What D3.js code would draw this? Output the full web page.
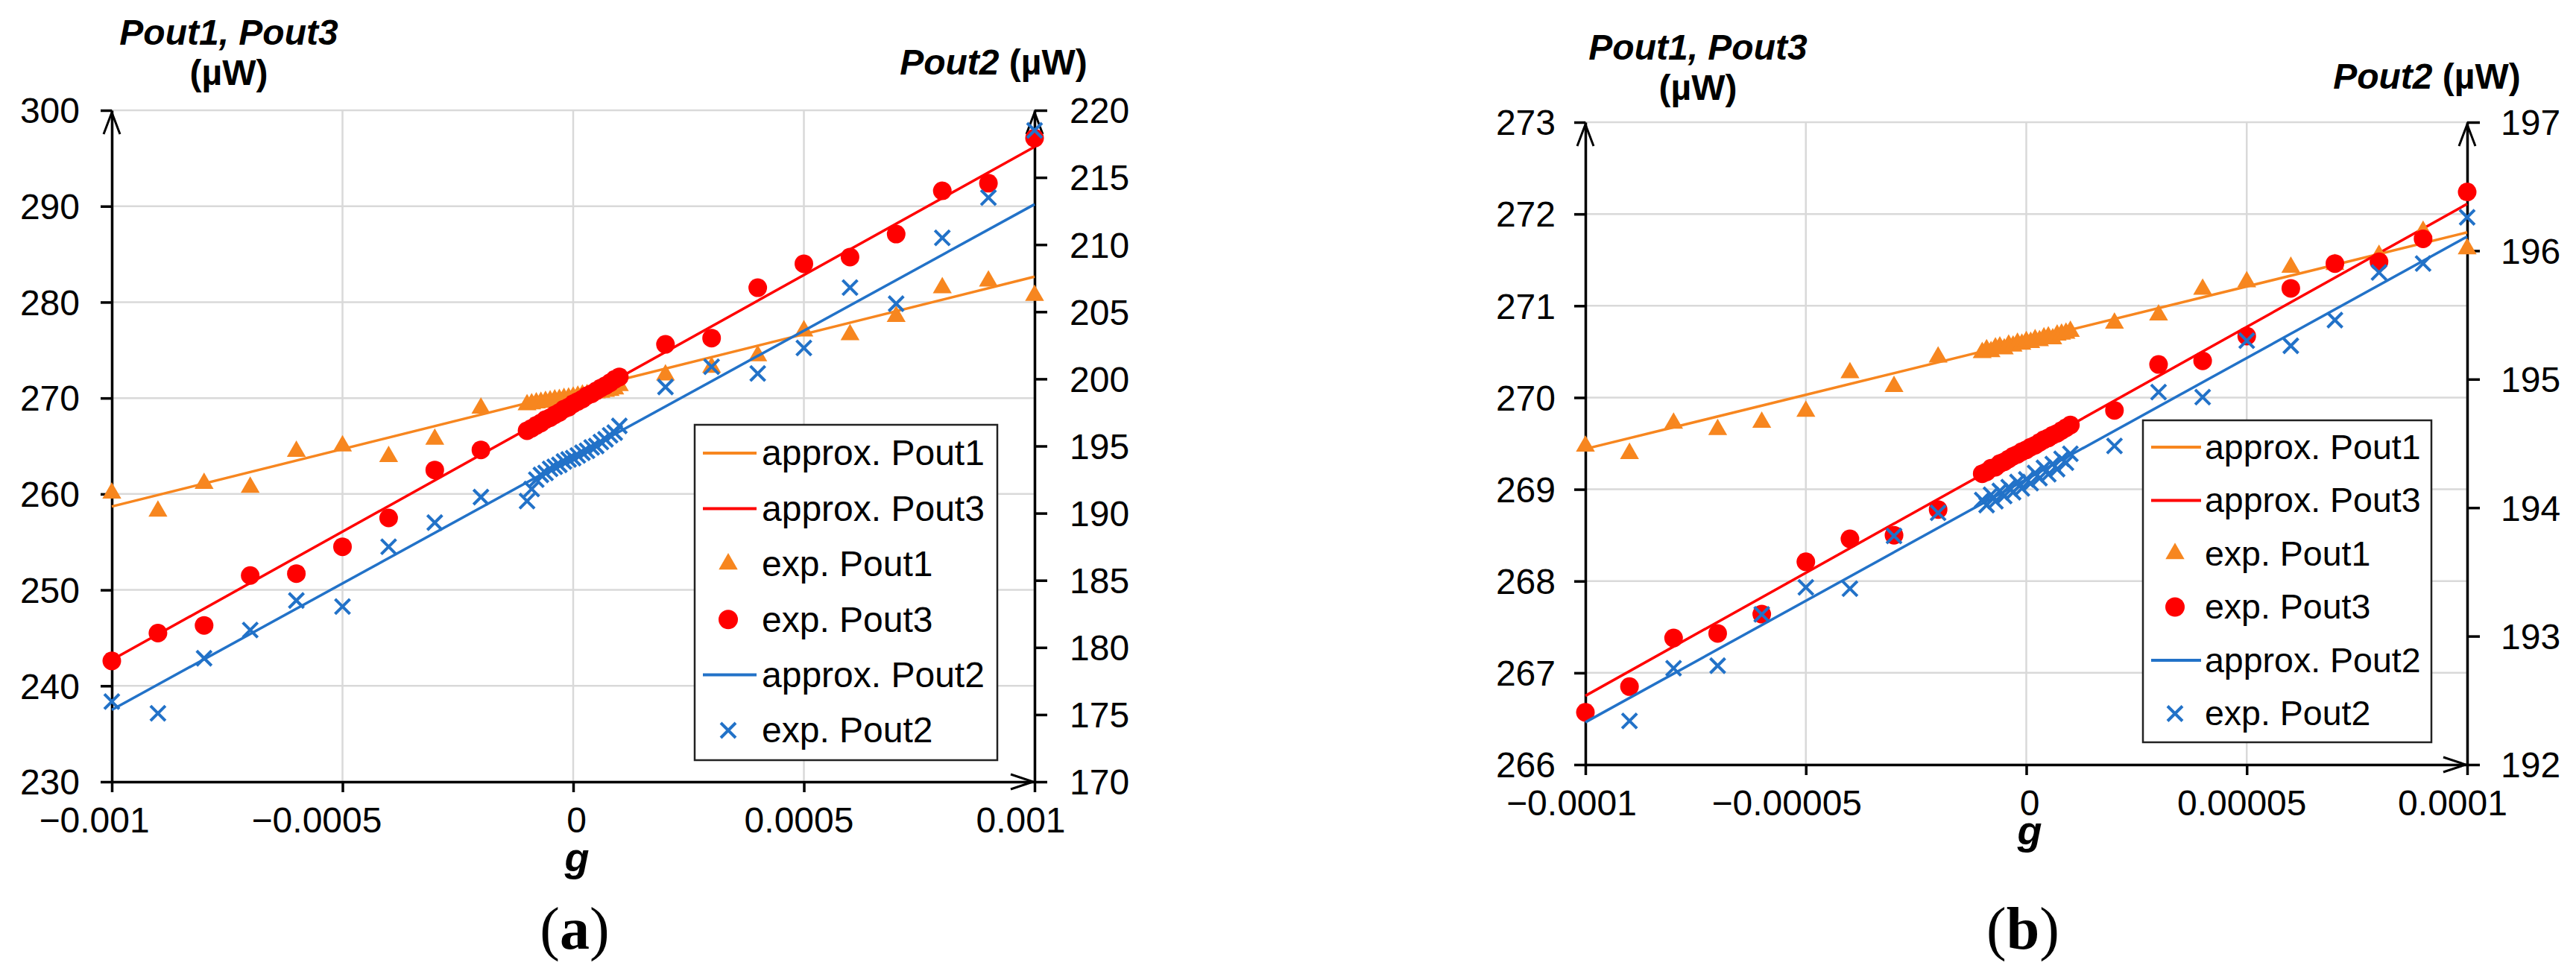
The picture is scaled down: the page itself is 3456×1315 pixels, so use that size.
<!DOCTYPE html>
<html>
<head>
<meta charset="utf-8">
<title>Pout1, Pout2, Pout3 vs g</title>
<script src="https://d3js.org/d3.v7.min.js"></script>
<style>
  body { margin: 0; background: #fff; }
  svg { display: block; }
  text { font-family: "Liberation Sans", Arial, sans-serif; fill: #000; }
</style>
</head>
<body>
<svg id="chart" width="3456" height="1315"></svg>
<script>
// g values: panel (a) in units of 1e-4, panel (b) in units of 1e-5
var gA = [-10, -9, -8, -7, -6, -5, -4, -3, -2,
  -1, -0.9, -0.8, -0.7, -0.6, -0.5, -0.4, -0.3, -0.2, -0.1, 0,
  0.1, 0.2, 0.3, 0.4, 0.5, 0.6, 0.7, 0.8, 0.9, 1,
  2, 3, 4, 5, 6, 7, 8, 9, 10];
var gB = gA.slice();

// panel (a) measured values
var pout1A = [260.1, 258.2, 261.1, 260.7, 264.45, 265.0, 263.9, 265.7, 268.95,
  269.3, 269.4, 269.5, 269.55, 269.65, 269.7, 269.8, 269.85, 269.95, 270.0,
  270.1, 270.2, 270.3, 270.35, 270.45, 270.55, 270.6, 270.7, 270.8, 270.95, 271.3,
  272.4, 273.2, 274.4, 277.0, 276.6, 278.5, 281.5, 282.2, 280.7];
var pout3A = [242.6, 245.5, 246.3, 251.5, 251.7, 254.5, 257.5, 262.5, 264.6,
  266.6, 266.85, 267.15, 267.4, 267.75, 267.95, 268.25, 268.5, 268.85, 269.05,
  269.4, 269.65, 269.9, 270.25, 270.45, 270.75, 271.05, 271.3, 271.6, 271.95, 272.2,
  275.6, 276.25, 281.5, 284.0, 284.7, 287.1, 291.6, 292.4, 297.1];
var pout2A = [175.97, 175.1, 179.2, 181.3, 183.5, 183.05, 187.5, 189.3, 191.2,
  190.9, 191.8, 192.5, 192.85, 193.0, 193.3, 193.45, 193.6, 193.85, 194.0,
  194.1, 194.3, 194.5, 194.65, 194.9, 195.0, 195.3, 195.5, 195.8, 196.0, 196.5,
  199.4, 200.9, 200.4, 202.3, 206.8, 205.6, 210.5, 213.5, 218.5];

// panel (b) measured values
var pout1B = [269.47, 269.39, 269.72, 269.65, 269.73, 269.85, 270.27, 270.12, 270.44,
  270.49, 270.52, 270.50, 270.54, 270.55, 270.53, 270.57, 270.56, 270.59, 270.58,
  270.61, 270.60, 270.63, 270.62, 270.65, 270.66, 270.64, 270.68, 270.69, 270.70, 270.72,
  270.81, 270.90, 271.18, 271.26, 271.42, 271.45, 271.55, 271.81, 271.62];
var pout3B = [266.57, 266.85, 267.38, 267.43, 267.64, 268.21, 268.46, 268.50, 268.78,
  269.17, 269.19, 269.23, 269.24, 269.28, 269.30, 269.33, 269.36, 269.38, 269.41,
  269.43, 269.46, 269.48, 269.51, 269.54, 269.56, 269.59, 269.61, 269.64, 269.67, 269.70,
  269.86, 270.36, 270.40, 270.67, 271.19, 271.46, 271.48, 271.73, 272.24];
var pout2B = [null, 192.34, 192.75, 192.77, 193.17, 193.38, 193.37, 193.78, 193.96,
  194.06, 194.02, 194.10, 194.05, 194.13, 194.09, 194.16, 194.12, 194.20, 194.15,
  194.22, 194.19, 194.27, 194.23, 194.31, 194.26, 194.34, 194.30, 194.38, 194.35, 194.42,
  194.48, 194.90, 194.86, 195.30, 195.26, 195.46, 195.83, 195.90, 196.26];

// linear approximations, end points at g = -max and +max
var fitG = [-10, 10];
var fit1A = [258.7, 282.65], fit3A = [242.7, 296.2], fit2A = [175.36, 213.0];
var fit1B = [269.44, 271.8], fit3B = [266.75, 272.11], fit2B = [192.33, 196.11];

// axes
var leftTicksA = [230, 240, 250, 260, 270, 280, 290, 300];
var rightTicksA = [170, 175, 180, 185, 190, 195, 200, 205, 210, 215, 220];
var leftTicksB = [266, 267, 268, 269, 270, 271, 272, 273];
var rightTicksB = [192, 193, 194, 195, 196, 197];
var xTicks = [-10, -5, 0, 5, 10];
var xLabelsA = ["\u22120.001", "\u22120.0005", "0", "0.0005", "0.001"];
var xLabelsB = ["\u22120.0001", "\u22120.00005", "0", "0.00005", "0.0001"];
var legendLabels = ["approx. Pout1", "approx. Pout3", "exp. Pout1", "exp. Pout3", "approx. Pout2", "exp. Pout2"];

var ORANGE = "#F7861F", RED = "#FF0000", BLUE = "#2272C8";

var svg = d3.select("#chart");
var tri = d3.symbol().type(d3.symbolTriangle).size(280);

function cross(cx, cy, s) {
  return "M" + (cx - s) + "," + (cy - s) + "L" + (cx + s) + "," + (cy + s) +
         "M" + (cx - s) + "," + (cy + s) + "L" + (cx + s) + "," + (cy - s);
}

function drawPanel(c) {
  var g = svg.append("g");
  var x = d3.scaleLinear().domain([-10, 10]).range([c.x0, c.x1]);
  var yL = d3.scaleLinear().domain(d3.extent(c.leftTicks)).range([c.y1, c.y0]);
  var yR = d3.scaleLinear().domain(d3.extent(c.rightTicks)).range([c.y1, c.y0]);

  // gridlines
  g.append("g").selectAll("line").data(c.leftTicks).join("line")
    .attr("x1", c.x0).attr("x2", c.x1)
    .attr("y1", function(d) { return yL(d); }).attr("y2", function(d) { return yL(d); })
    .attr("stroke", "#d9d9d9").attr("stroke-width", 2.5);
  g.append("g").selectAll("line").data(xTicks).join("line")
    .attr("y1", c.y0).attr("y2", c.y1)
    .attr("x1", function(d) { return x(d); }).attr("x2", function(d) { return x(d); })
    .attr("stroke", "#d9d9d9").attr("stroke-width", 2.5);

  // axes
  var axL = g.append("g").attr("transform", "translate(" + c.x0 + ",0)")
    .call(d3.axisLeft(yL).tickValues(c.leftTicks).tickFormat(d3.format("d"))
      .tickSize(15).tickSizeOuter(0).tickPadding(c.padL));
  var axR = g.append("g").attr("transform", "translate(" + c.x1 + ",0)")
    .call(d3.axisRight(yR).tickValues(c.rightTicks).tickFormat(d3.format("d"))
      .tickSize(17).tickSizeOuter(0).tickPadding(c.padR));
  var axB = g.append("g").attr("transform", "translate(0," + c.y1 + ")")
    .call(d3.axisBottom(x).tickValues(xTicks).tickSize(14).tickSizeOuter(0).tickPadding(20)
      .tickFormat(function(d, i) { return c.xLabels[i]; }));
  [axL, axR, axB].forEach(function(a) {
    a.select(".domain").attr("stroke", "#000").attr("stroke-width", 3.5);
    a.selectAll(".tick line").attr("stroke", "#000").attr("stroke-width", 3.5);
    a.selectAll(".tick text").attr("font-size", 48)
      .attr("font-family", "Liberation Sans, Arial, sans-serif").attr("fill", "#000");
  });
  axL.selectAll(".tick text").attr("dy", "0.35em");
  axR.selectAll(".tick text").attr("dy", "0.35em");
  // Excel placed these labels a little off their ticks
  axB.selectAll(".tick text").attr("dx", function(d, i) { return c.xNudge[i]; });

  // arrow heads
  var arrows = "M" + (c.x0 - 11) + "," + (c.y0 + 32) + "L" + c.x0 + "," + (c.y0 + 3) + "L" + (c.x0 + 11) + "," + (c.y0 + 32) +
    "M" + (c.x1 - 11) + "," + (c.y0 + 32) + "L" + c.x1 + "," + (c.y0 + 3) + "L" + (c.x1 + 11) + "," + (c.y0 + 32) +
    "M" + (c.x1 - 32) + "," + (c.y1 - 10) + "L" + (c.x1 - 2) + "," + c.y1 + "L" + (c.x1 - 32) + "," + (c.y1 + 10);
  g.append("path").attr("d", arrows).attr("fill", "none").attr("stroke", "#000").attr("stroke-width", 3);

  // series
  var lineL = d3.line().x(function(d) { return x(d[0]); }).y(function(d) { return yL(d[1]); });
  var lineR = d3.line().x(function(d) { return x(d[0]); }).y(function(d) { return yR(d[1]); });
  function pairs(gs, vs) {
    return gs.map(function(v, i) { return [v, vs[i]]; }).filter(function(d) { return d[1] != null; });
  }

  g.append("path").attr("d", lineL(pairs(fitG, c.fit1))).attr("stroke", ORANGE).attr("stroke-width", 3.5).attr("fill", "none");
  g.append("path").attr("d", lineL(pairs(fitG, c.fit3))).attr("stroke", RED).attr("stroke-width", 3.5).attr("fill", "none");

  g.append("g").selectAll("path").data(pairs(c.g, c.p1)).join("path")
    .attr("d", tri).attr("fill", ORANGE)
    .attr("transform", function(d) { return "translate(" + x(d[0]) + "," + yL(d[1]) + ")"; });

  g.append("g").selectAll("circle").data(pairs(c.g, c.p3)).join("circle")
    .attr("cx", function(d) { return x(d[0]); }).attr("cy", function(d) { return yL(d[1]); })
    .attr("r", 12.5).attr("fill", RED);

  g.append("path").attr("d", lineR(pairs(fitG, c.fit2))).attr("stroke", BLUE).attr("stroke-width", 3.5).attr("fill", "none");

  g.append("g").selectAll("path").data(pairs(c.g, c.p2)).join("path")
    .attr("d", function(d) { return cross(x(d[0]), yR(d[1]), 10); })
    .attr("stroke", BLUE).attr("stroke-width", 4).attr("fill", "none");

  // axis titles
  g.append("text").attr("x", c.titleLX).attr("y", c.titleLY).attr("text-anchor", "middle").attr("font-size", 48)
    .attr("font-weight", "bold").attr("font-style", "italic").text("Pout1, Pout3");
  g.append("text").attr("x", c.titleLX).attr("y", c.titleLY + 54).attr("text-anchor", "middle")
    .attr("font-size", 48).attr("font-weight", "bold").text("(\u00b5W)");
  var tr = g.append("text").attr("x", c.titleRX).attr("y", c.titleRY).attr("text-anchor", "middle")
    .attr("font-size", 48).attr("font-weight", "bold");
  tr.append("tspan").attr("font-style", "italic").text("Pout2");
  tr.append("tspan").text(" (\u00b5W)");
  g.append("text").attr("x", c.gX).attr("y", c.gY).attr("text-anchor", "middle").attr("font-size", 54)
    .attr("font-weight", "bold").attr("font-style", "italic").text("g");

  var cap = g.append("text").attr("x", c.capX).attr("y", 1273).attr("text-anchor", "middle")
    .attr("font-size", 80).style("font-family", "'Liberation Serif', 'Times New Roman', serif");
  cap.append("tspan").text("(");
  cap.append("tspan").attr("font-weight", "bold").text(c.caption);
  cap.append("tspan").text(")");

  // legend
  var L = c.legend;
  var lg = g.append("g");
  lg.append("rect").attr("x", L.x).attr("y", L.y).attr("width", L.w).attr("height", L.h)
    .attr("fill", "#fff").attr("stroke", "#222").attr("stroke-width", 2.5);
  var kinds = ["line", "line", "tri", "dot", "line", "x"];
  var cols = [ORANGE, RED, ORANGE, RED, BLUE, BLUE];
  legendLabels.forEach(function(lab, i) {
    var cy = L.row0 + i * L.dy;
    if (kinds[i] === "line") {
      lg.append("line").attr("x1", L.lx0).attr("x2", L.lx1).attr("y1", cy).attr("y2", cy)
        .attr("stroke", cols[i]).attr("stroke-width", 4);
    } else if (kinds[i] === "tri") {
      lg.append("path").attr("d", tri).attr("fill", cols[i]).attr("transform", "translate(" + L.mx + "," + cy + ")");
    } else if (kinds[i] === "dot") {
      lg.append("circle").attr("cx", L.mx).attr("cy", cy).attr("r", 13).attr("fill", cols[i]);
    } else {
      lg.append("path").attr("d", cross(L.mx, cy, 10)).attr("stroke", cols[i]).attr("stroke-width", 4).attr("fill", "none");
    }
    lg.append("text").attr("x", L.tx).attr("y", cy).attr("dy", "0.34em").attr("font-size", L.fs).text(lab);
  });
}

drawPanel({
  x0: 150, x1: 1388, y0: 148, y1: 1049,
  leftTicks: leftTicksA, rightTicks: rightTicksA, xLabels: xLabelsA, xNudge: [-24, -35, 4, -7, -19],
  padL: 28, padR: 30,
  g: gA, p1: pout1A, p3: pout3A, p2: pout2A, fit1: fit1A, fit3: fit3A, fit2: fit2A,
  titleLX: 307, titleLY: 60, titleRX: 1333, titleRY: 100,
  gX: 774, gY: 1169, capX: 771, caption: "a",
  legend: { x: 932, y: 570, w: 406, h: 450, row0: 608, dy: 74.4, lx0: 943, lx1: 1015, mx: 977, tx: 1022, fs: 48 }
});

drawPanel({
  x0: 2127, x1: 3310, y0: 164, y1: 1026,
  leftTicks: leftTicksB, rightTicks: rightTicksB, xLabels: xLabelsB, xNudge: [-19, -26, 4, -7, -20],
  padL: 25, padR: 28,
  g: gB, p1: pout1B, p3: pout3B, p2: pout2B, fit1: fit1B, fit3: fit3B, fit2: fit2B,
  titleLX: 2278, titleLY: 80, titleRX: 3256, titleRY: 119,
  gX: 2723, gY: 1133, capX: 2714, caption: "b",
  legend: { x: 2875, y: 564, w: 387, h: 432, row0: 600, dy: 71.5, lx0: 2886, lx1: 2953, mx: 2918, tx: 2958, fs: 46.5 }
});
</script>
</body>
</html>
